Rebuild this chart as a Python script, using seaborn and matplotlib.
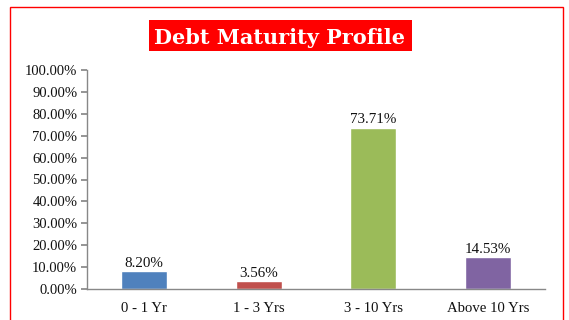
import matplotlib
matplotlib.use("Agg")
import matplotlib.pyplot as plt
import matplotlib.patches as mpatches
import seaborn as sns
import pandas as pd

categories = ["0 - 1 Yr", "1 - 3 Yrs", "3 - 10 Yrs", "Above 10 Yrs"]
shares = [8.20, 3.56, 73.71, 14.53]
bar_colors = ["#4F81BD", "#C0504D", "#9BBB59", "#8064A2"]
y_ticks = [0, 10, 20, 30, 40, 50, 60, 70, 80, 90, 100]

df = pd.DataFrame({"tenor": categories, "share": shares})

sns.set_theme(style="white")
plt.rcParams["font.family"] = ["Liberation Serif", "DejaVu Serif"]

W, H = 569, 320
fig = plt.figure(figsize=(W / 100, H / 100), dpi=100)
ax = fig.add_axes([87 / W, 1 - 289 / H, 458 / W, 219 / H])

sns.barplot(data=df, x="tenor", y="share", hue="tenor", palette=bar_colors,
            width=0.4, legend=False, ax=ax, saturation=1)

ax.set_ylim(0, 100)
ax.set_xlim(-0.5, len(categories) - 0.5)
ax.set_yticks(y_ticks)
ax.set_yticklabels([f"{v:.2f}%" for v in y_ticks], fontsize=10.5, color="#111111")
ax.set_xticks(range(len(categories)))
ax.set_xticklabels(categories, fontsize=10.6, color="#111111")
ax.set_xlabel("")
ax.set_ylabel("")

# category boundary ticks on the x axis
ax.set_xticks([i - 0.5 for i in range(len(categories) + 1)], minor=True)
ax.tick_params(axis="x", which="major", length=0, pad=9)
ax.tick_params(axis="x", which="minor", length=4, color="#888888", direction="out")
ax.tick_params(axis="y", length=4, color="#888888", direction="out", pad=3, left=True)

for side in ["top", "right"]:
    ax.spines[side].set_visible(False)
for side in ["left", "bottom"]:
    ax.spines[side].set_color("#888888")
    ax.spines[side].set_linewidth(1.0)

for i, v in enumerate(shares):
    ax.text(i, v + 0.7, f"{v:.2f}%", ha="center", va="bottom", fontsize=10.8,
            color="#111111")

# outer red frame
frame = mpatches.Rectangle((10 / W, -0.1), 553 / W, 1.1 - 7 / H,
                           transform=fig.transFigure, fill=False,
                           edgecolor="#FF0000", linewidth=1.0, clip_on=False)
fig.patches.append(frame)

# title on red background
title_box = mpatches.Rectangle((149 / W, 1 - 50.7 / H), 262.7 / W, 30.7 / H,
                               transform=fig.transFigure, facecolor="#FF0000",
                               edgecolor="none")
fig.patches.append(title_box)
fig.text(280 / W, 1 - 44.3 / H, "Debt Maturity Profile", ha="center",
         va="baseline", fontsize=15, fontweight="bold", color="white",
         family=["DejaVu Serif"])

fig.savefig("out.png", dpi=100, facecolor="white")
